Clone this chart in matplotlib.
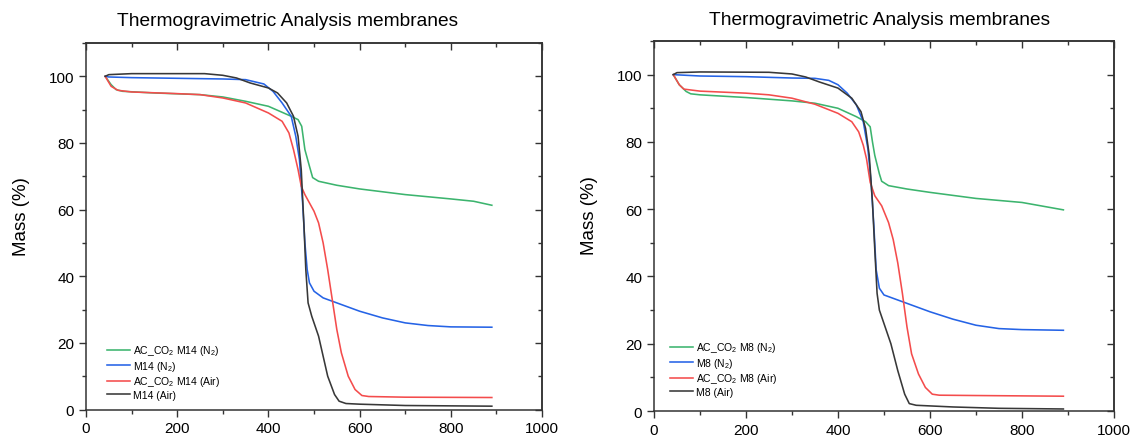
import matplotlib
matplotlib.use("Agg")
import matplotlib.pyplot as plt
from matplotlib.ticker import MultipleLocator, NullFormatter

plt.rcParams['font.family'] = ['Liberation Sans', 'DejaVu Sans']
plt.rcParams['mathtext.fontset'] = 'custom'
plt.rcParams['mathtext.rm'] = 'Liberation Sans'
plt.rcParams['mathtext.it'] = 'Liberation Sans:italic'
plt.rcParams['mathtext.bf'] = 'Liberation Sans:bold'

title = "Thermogravimetric Analysis membranes"
x_ticks = [0, 200, 400, 600, 800, 1000]
y_ticks = [0, 20, 40, 60, 80, 100]

# ---- Left panel (M14) ----
m14_green_x = [42, 55, 66, 80, 150, 250, 300, 350, 400, 450, 465, 473, 480, 490, 497, 510, 550, 600, 700, 800, 850, 890]
m14_green_y = [100, 97.5, 96, 95.5, 95, 94.5, 93.8, 92.5, 91, 88, 87, 85, 78, 73, 69.6, 68.5, 67.3, 66.2, 64.5, 63.2, 62.5, 61.3]
m14_blue_x = [42, 50, 100, 200, 300, 350, 390, 410, 430, 450, 460, 468, 475, 480, 485, 490, 500, 520, 550, 600, 650, 700, 750, 800, 890]
m14_blue_y = [100, 99.8, 99.6, 99.4, 99.2, 99, 97.7, 95.5, 92, 88, 82, 75, 62, 50, 42, 38, 35.5, 33.5, 32, 29.5, 27.5, 26, 25.2, 24.8, 24.7]
m14_red_x = [42, 55, 70, 100, 200, 250, 300, 350, 400, 430, 445, 455, 465, 472, 480, 490, 500, 510, 520, 530, 540, 550, 560, 575, 590, 605, 620, 700, 890]
m14_red_y = [100, 97, 95.8, 95.3, 94.8, 94.5, 93.5, 92, 89, 86.5, 83, 78, 72, 67, 64.5, 62, 59.5, 56, 50, 42, 33, 24, 17, 10, 6, 4.2, 3.9, 3.7, 3.6]
m14_black_x = [42, 50, 100, 200, 260, 300, 330, 360, 400, 420, 440, 455, 465, 472, 478, 482, 487, 495, 510, 520, 530, 545, 555, 570, 600, 700, 890]
m14_black_y = [100, 100.5, 100.8, 100.8, 100.8, 100.3, 99.5, 98, 96.5, 95, 92, 88, 82, 72, 55, 42, 32, 28, 22, 16, 10, 4.5, 2.5, 1.8, 1.6, 1.2, 1.0]

# ---- Right panel (M8) ----
m8_green_x = [42, 55, 70, 80, 100, 200, 300, 350, 400, 440, 460, 470, 475, 480, 490, 495, 510, 550, 600, 700, 800, 890]
m8_green_y = [100, 97, 95, 94.3, 94, 93.2, 92.2, 91.5, 90, 87.5, 86, 84.5, 80, 76, 70.5, 68.3, 67, 66, 65, 63.2, 62, 59.8]
m8_blue_x = [42, 100, 200, 300, 350, 380, 400, 420, 440, 455, 465, 472, 478, 483, 490, 500, 530, 600, 650, 700, 750, 800, 890]
m8_blue_y = [100, 99.6, 99.4, 99.0, 98.9, 98.3, 97, 94.5, 91, 86, 78, 68, 55, 42, 36.5, 34.5, 33, 29.5, 27.3, 25.5, 24.5, 24.2, 24.0]
m8_red_x = [42, 55, 65, 100, 200, 250, 300, 350, 400, 430, 445, 455, 462, 470, 480, 495, 510, 520, 530, 540, 550, 560, 575, 590, 605, 620, 700, 890]
m8_red_y = [100, 97, 95.7, 95.1, 94.5, 94, 93, 91.2, 88.5, 86, 83, 79, 75, 68, 64, 61, 56, 51, 44, 35, 25, 17, 11, 7, 5, 4.7, 4.6, 4.4]
m8_black_x = [42, 50, 100, 250, 300, 330, 360, 400, 430, 450, 460, 468, 475, 480, 485, 490, 500, 515, 530, 545, 555, 570, 650, 750, 890]
m8_black_y = [100, 100.6, 100.8, 100.7, 100.2, 99.3, 97.8, 96, 93, 89, 84, 76, 62, 48, 35, 30, 26, 20, 12, 5, 2.2, 1.7, 1.2, 0.8, 0.6]

colors = {'green': '#3cb46e', 'blue': '#2563e6', 'red': '#f44c4c', 'black': '#383838'}

panels = [
    dict(pos=[0.0760, 0.0649, 0.4028, 0.8349], title_x=0.443, leg_anchor=(0.046, 0.026),
         data=[(m14_green_x, m14_green_y, 'green', 'AC_CO$_2$ M14 (N$_2$)'),
               (m14_blue_x, m14_blue_y, 'blue', 'M14 (N$_2$)'),
               (m14_red_x, m14_red_y, 'red', 'AC_CO$_2$ M14 (Air)'),
               (m14_black_x, m14_black_y, 'black', 'M14 (Air)')]),
    dict(pos=[0.5777, 0.0615, 0.4064, 0.8428], title_x=0.491, leg_anchor=(0.035, 0.038),
         data=[(m8_green_x, m8_green_y, 'green', 'AC_CO$_2$ M8 (N$_2$)'),
               (m8_blue_x, m8_blue_y, 'blue', 'M8 (N$_2$)'),
               (m8_red_x, m8_red_y, 'red', 'AC_CO$_2$ M8 (Air)'),
               (m8_black_x, m8_black_y, 'black', 'M8 (Air)')]),
]

spine_col = '#333333'
fig = plt.figure(figsize=(11.32, 4.39), dpi=100)
for p in panels:
    ax = fig.add_axes(p['pos'])
    for x, y, c, lab in p['data']:
        ax.plot(x, y, color=colors[c], lw=1.15, label=lab)
    ax.set_xlim(0, 1000)
    ax.set_ylim(0, 110)
    ax.set_xticks(x_ticks)
    ax.set_yticks(y_ticks)
    ax.xaxis.set_minor_locator(MultipleLocator(100))
    ax.yaxis.set_minor_locator(MultipleLocator(10))
    ax.tick_params(which='both', direction='out', labelsize=11, width=1.0, color=spine_col)
    ax.tick_params(which='major', length=5)
    ax.tick_params(which='minor', length=3)
    for s in ax.spines.values():
        s.set_linewidth(1.1)
        s.set_color(spine_col)

    # mirrored inward ticks on top and right
    top = ax.secondary_xaxis('top')
    top.set_xticks(x_ticks)
    top.xaxis.set_minor_locator(MultipleLocator(100))
    top.xaxis.set_major_formatter(NullFormatter())
    top.tick_params(which='both', direction='in', width=1.0, color=spine_col)
    top.tick_params(which='major', length=5)
    top.tick_params(which='minor', length=3)
    top.spines['top'].set_color(spine_col)
    top.spines['top'].set_linewidth(1.1)
    right = ax.secondary_yaxis('right')
    right.set_yticks(y_ticks)
    right.yaxis.set_minor_locator(MultipleLocator(10))
    right.yaxis.set_major_formatter(NullFormatter())
    right.tick_params(which='both', direction='in', width=1.0, color=spine_col)
    right.tick_params(which='major', length=5)
    right.tick_params(which='minor', length=3)
    right.spines['right'].set_color(spine_col)
    right.spines['right'].set_linewidth(1.1)

    ax.set_ylabel('Mass (%)', fontsize=13.5)
    ax.yaxis.set_label_coords(-0.122, 0.53)
    ax.text(p['title_x'], 1.0 + 22 / (p['pos'][3] * 439), title, transform=ax.transAxes,
            ha='center', va='center', fontsize=13.8)
    ax.legend(loc='lower left', bbox_to_anchor=p['leg_anchor'], frameon=False,
              fontsize=7.5, handlelength=2.2, handletextpad=0.3, labelspacing=0.15,
              borderpad=0, borderaxespad=0)

fig.savefig('out.png', dpi=100)
